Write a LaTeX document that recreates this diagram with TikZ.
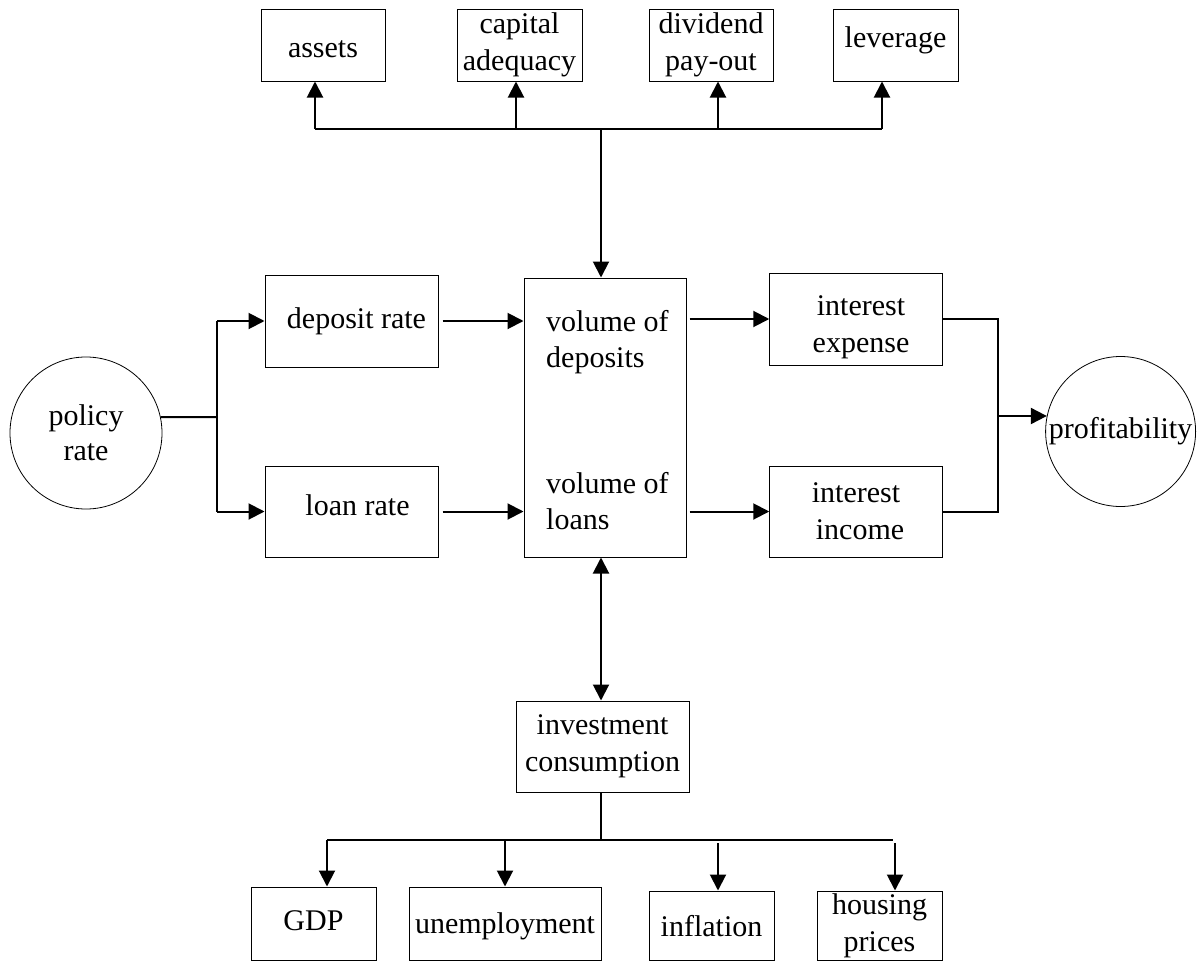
\documentclass[tikz,border=0pt]{standalone}
\usepackage{fontspec}
\setmainfont{Liberation Serif}
\usetikzlibrary{arrows.meta}
\tikzset{
  box/.style={draw, line width=1pt, inner sep=0pt, align=center, font=\fontsize{30}{37}\selectfont},
  circ/.style={draw, circle, line width=0.8pt, inner sep=0pt, align=center, font=\fontsize{30}{35}\selectfont},
  lbl/.style={inner sep=0pt, align=left, anchor=north west, font=\fontsize{30}{36}\selectfont},
  arr/.style={line width=2pt, -{Triangle[length=16pt,width=16pt]}},
  dbl/.style={line width=2pt, {Triangle[length=16pt,width=16pt]}-{Triangle[length=16pt,width=16pt]}},
  ln/.style={line width=2pt},
  thinln/.style={line width=1.2pt}
}
\begin{document}
\begin{tikzpicture}[x=1pt,y=-1pt]
\useasboundingbox (0,0) rectangle (1200,961);
% top boxes
\node[box, minimum width=124pt, minimum height=72pt, text height=24pt, text depth=0pt] (assets) at (323,45) {assets};
\node[box, minimum width=125pt, minimum height=72pt] (capital) at (519.5,45) {capital\\adequacy};
\node[box, minimum width=124pt, minimum height=72pt] (dividend) at (711,45) {dividend\\pay-out};
\node[box, minimum width=125pt, minimum height=72pt, text height=20pt, text depth=16pt] (leverage) at (895.5,45) {leverage};
% middle row
\node[circ, minimum size=152pt] (policy) at (86,433) {policy\\rate};
\node[box, minimum width=173pt, minimum height=92pt, text height=20pt, text depth=6pt] (dep) at (351.5,321) {\hspace{10pt}deposit rate};
\node[box, minimum width=173pt, minimum height=91pt, text height=20pt, text depth=13pt] (loan) at (351.5,511.5) {\hspace{12pt}loan rate};
\node[box, minimum width=162pt, minimum height=279pt] (mid) at (605,417.5) {};
\node[lbl] (vdep) at (546,310) {volume of\\deposits};
\node[lbl] (vloan) at (546,472) {volume of\\loans};
\node[box, minimum width=172.5pt, minimum height=92pt] (exp) at (856,319) {\hspace{10pt}\rule{0pt}{36pt}interest\\\hspace{10pt}expense};
\node[box, minimum width=172.5pt, minimum height=91pt] (inc) at (856,511.5) {interest\\\hspace{8pt}income};
\node[circ, minimum size=150pt] (profit) at (1120.6,431.5) {profitability};
% bottom
\node[box, minimum width=173pt, minimum height=91pt] (inv) at (602.5,746.5) {investment\\consumption};
\node[box, minimum width=125pt, minimum height=73pt, text height=20pt, text depth=7pt] (gdp) at (313.5,923.5) {GDP};
\node[box, minimum width=192pt, minimum height=73pt, text height=22pt, text depth=3pt] (unemp) at (505,923.5) {unemployment};
\node[box, minimum width=125pt, minimum height=69pt, text height=21pt, text depth=0pt] (infl) at (711.5,925.5) {inflation};
\node[box, minimum width=125pt, minimum height=69pt] (house) at (879.5,925.5) {housing\\prices};
% coordinates
\coordinate (tj) at (601,129);
\coordinate (t1) at (315,129);
\coordinate (t2) at (516,129);
\coordinate (t3) at (718,129);
\coordinate (t4) at (882,129);
\coordinate (br) at (217,417);
\coordinate (colx) at (997.5,416);
\coordinate (bj) at (601,840);
\coordinate (b1) at (327,840);
\coordinate (b2) at (505,840);
\coordinate (b3) at (718,843);
\coordinate (b4) at (895,843);
\coordinate (bend) at (893,840);
% top connectors
\draw[ln] (t1) -- (t4);
\draw[arr] (t1) -- (t1 |- assets.south);
\draw[arr] (t2) -- (t2 |- capital.south);
\draw[arr] (t3) -- (t3 |- dividend.south);
\draw[arr] (t4) -- (t4 |- leverage.south);
\draw[arr] (tj) -- (tj |- mid.north);
% left connectors
\draw[ln] (policy.12) -- (br);
\draw[ln] (dep.west -| br) -- (loan.west -| br);
\draw[arr] (dep.west -| br) -- (dep.west);
\draw[arr] (loan.west -| br) -- (loan.west);
\draw[arr, shorten <=4pt] (dep.east) -- (dep.east -| mid.west);
\draw[arr, shorten <=4pt] (loan.east) -- (loan.east -| mid.west);
% right connectors
\draw[arr, shorten <=3pt] (mid.east |- exp.west) -- (exp.west);
\draw[arr, shorten <=3pt] (mid.east |- inc.west) -- (inc.west);
\draw[ln] (exp.east) -- (exp.east -| colx) -- (inc.east -| colx) -- (inc.east);
\draw[arr] (colx) -- (colx -| profit.168);
% bottom connectors
\draw[dbl] (mid.south -| bj) -- (inv.north -| bj);
\draw[thinln] (inv.south -| bj) -- (bj);
\draw[thinln] (b1) -- (bend);
\draw[arr] (b1) -- (b1 |- gdp.north);
\draw[arr] (b2) -- (b2 |- unemp.north);
\draw[arr] (b3) -- (b3 |- infl.north);
\draw[arr] (b4) -- (b4 |- house.north);
\end{tikzpicture}
\end{document}
